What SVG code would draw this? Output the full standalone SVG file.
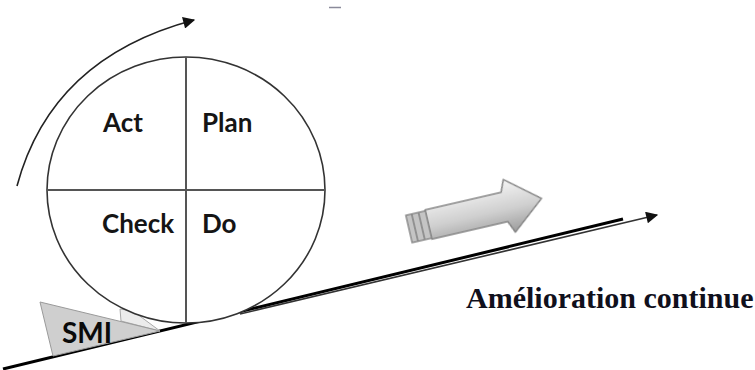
<svg xmlns="http://www.w3.org/2000/svg" width="755" height="370" viewBox="0 0 755 370">
  <style>
    .pdca { font-family: Lato, "Open Sans", "Liberation Sans", sans-serif; font-weight: bold; font-size: 26px; fill: #151515; }
    .smi { font-family: Lato, "Open Sans", "Liberation Sans", sans-serif; font-weight: bold; font-size: 28px; fill: #0a0a0a; }
    .caption { font-family: "Liberation Serif", "Times New Roman", serif; font-weight: bold; font-size: 30px; fill: #10101c; }
    .wheel { fill: #ffffff; stroke: #333333; stroke-width: 1.6; }
    .divider { stroke: #555555; stroke-width: 2; }
    .cycle { fill: none; stroke: #222222; stroke-width: 1.6; }
  </style>
  <defs>
    <marker id="headBig" viewBox="0 0 10 10" refX="9" refY="5" markerWidth="15" markerHeight="12" markerUnits="userSpaceOnUse" orient="auto">
      <path d="M0,0 L10,5 L0,10 Z" fill="#111111"/>
    </marker>
    <linearGradient id="arrowFill" x1="0" y1="0" x2="0" y2="1">
      <stop offset="0" stop-color="#f4f4f4"/>
      <stop offset="0.55" stop-color="#cfcfcf"/>
      <stop offset="1" stop-color="#9c9c9c"/>
    </linearGradient>
    <filter id="soft" x="-10%" y="-10%" width="120%" height="120%">
      <feGaussianBlur stdDeviation="0.6"/>
    </filter>
  </defs>

  <!-- small mark at the top -->
  <line x1="329" y1="7.5" x2="341" y2="7.5" stroke="#8a8a9a" stroke-width="1.5"/>

  <!-- connectors: rotation arrow and the slope -->
  <g id="connectors">
    <path class="cycle" d="M17,186 C40,100 100,45 194,20" marker-end="url(#headBig)"/>
    <line x1="240" y1="314" x2="657" y2="215" stroke="#333333" stroke-width="1.6" marker-end="url(#headBig)"/>
    <line x1="3" y1="369" x2="623" y2="219" stroke="#000000" stroke-width="3"/>
  </g>

  <!-- SMI wedge -->
  <g id="smi">
    <polygon points="120,309 121,321 160,331 133,311" fill="#ececec" stroke="#aaaaaa" stroke-width="1"/>
    <polygon points="40,302 53,356 160,331" fill="#cfcfcf" stroke="#9a9a9a" stroke-width="1"/>
    <text class="smi" x="62" y="343">SMI</text>
  </g>

  <!-- PDCA wheel -->
  <g id="wheel">
    <ellipse class="wheel" cx="186" cy="190" rx="139" ry="133"/>
    <line class="divider" x1="186" y1="57" x2="186" y2="323"/>
    <line class="divider" x1="47" y1="190" x2="325" y2="190"/>
  </g>
  <g id="act"><text class="pdca" x="103" y="132">Act</text></g>
  <g id="plan"><text class="pdca" x="202" y="132">Plan</text></g>
  <g id="check"><text class="pdca" x="102" y="233">Check</text></g>
  <g id="do"><text class="pdca" x="202" y="233">Do</text></g>

  <!-- shaded block arrow -->
  <g id="progress" transform="translate(409,229) rotate(-13)" filter="url(#soft)">
    <path d="M20,-15 L98,-15 L103,-27 L136,0 L103,27 L98,15 L20,15 Z" fill="url(#arrowFill)" stroke="#858585" stroke-width="1.6" stroke-linejoin="round"/>
    <rect x="0" y="-14" width="20" height="28" fill="#c4c4c4" stroke="#858585" stroke-width="1.4"/>
    <line x1="6" y1="-14" x2="6" y2="14" stroke="#858585" stroke-width="1.6"/>
    <line x1="13" y1="-14" x2="13" y2="14" stroke="#858585" stroke-width="1.6"/>
  </g>

  <!-- caption -->
  <g id="caption">
    <text class="caption" x="466" y="308">Amélioration continue</text>
  </g>
</svg>
